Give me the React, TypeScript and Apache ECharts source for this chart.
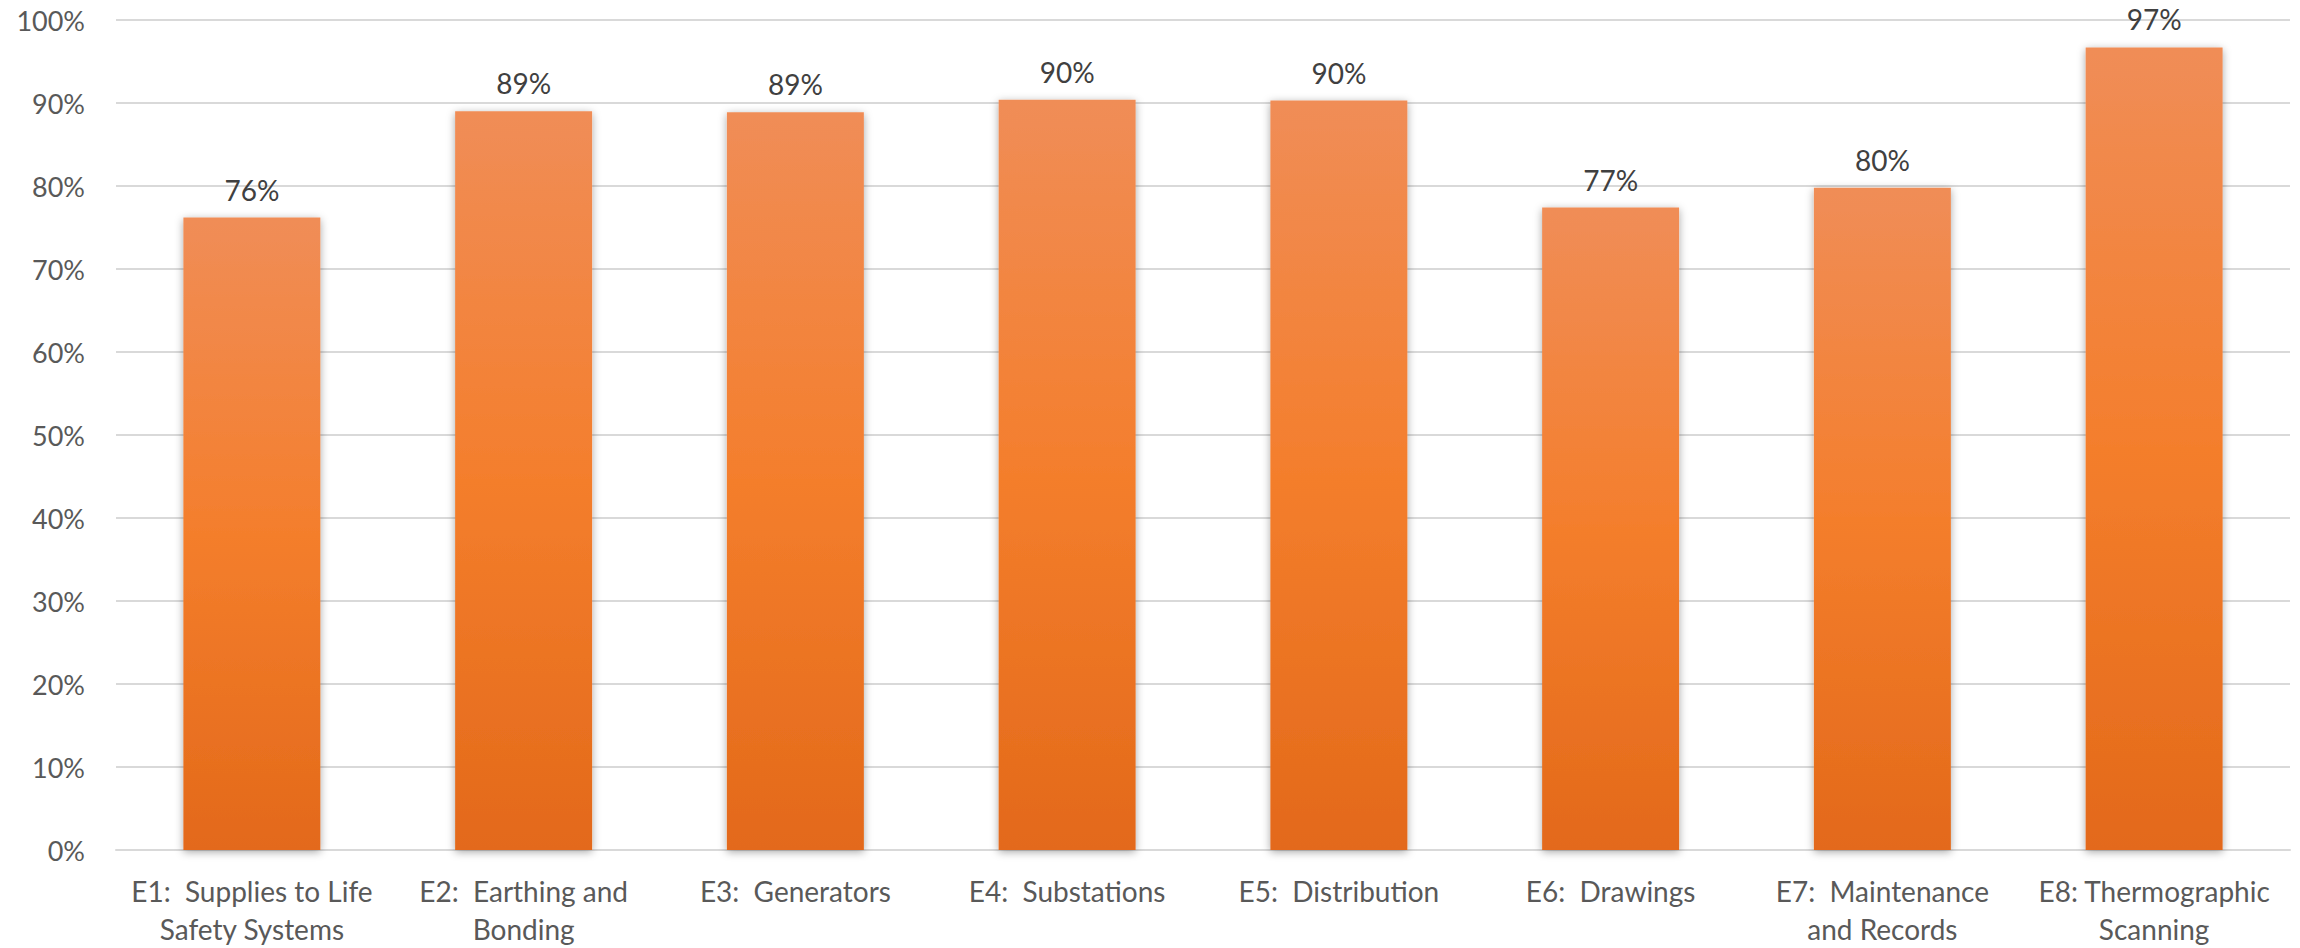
import React, { useEffect, useRef } from "react";
import * as echarts from "echarts";

// Electrical audit sections and their compliance scores (%)
const categories: string[] = [
  "E1:  Supplies to Life\nSafety Systems",
  "E2:  Earthing and\nBonding",
  "E3:  Generators",
  "E4:  Substations",
  "E5:  Distribution",
  "E6:  Drawings",
  "E7:  Maintenance\nand Records",
  "E8: Thermographic\nScanning",
];
const scores: number[] = [76.2, 89.0, 88.9, 90.4, 90.3, 77.4, 79.8, 96.7];
const yTicks: number[] = [0, 10, 20, 30, 40, 50, 60, 70, 80, 90, 100];

const FONT = "Lato, 'Noto Sans', sans-serif";

export default function App() {
  const ref = useRef<HTMLDivElement>(null);

  useEffect(() => {
    if (!ref.current) return;
    const chart = echarts.init(ref.current, undefined, { renderer: "svg" });
    chart.setOption({
      animation: false,
      backgroundColor: "#ffffff",
      grid: { left: 116, right: 10, top: 20, bottom: 97, containLabel: false },
      xAxis: {
        type: "category",
        data: categories,
        axisLine: { show: true, lineStyle: { color: "#D9D9D9", width: 2 } },
        axisTick: { show: false },
        axisLabel: {
          color: "#595959",
          fontFamily: FONT,
          fontSize: 28,
          lineHeight: 38,
          margin: 22,
          interval: 0,
        },
      },
      yAxis: {
        type: "value",
        min: yTicks[0],
        max: yTicks[yTicks.length - 1],
        interval: 10,
        axisLine: { show: false },
        axisTick: { show: false },
        splitLine: { lineStyle: { color: "#D9D9D9", width: 2 } },
        axisLabel: {
          color: "#595959",
          fontFamily: FONT,
          fontSize: 27,
          margin: 31,
          formatter: (v: number) => `${v}%`,
        },
      },
      series: [
        {
          type: "bar",
          data: scores,
          barWidth: "50.4%",
          itemStyle: {
            color: new echarts.graphic.LinearGradient(0, 0, 0, 1, [
              { offset: 0, color: "#F08D57" },
              { offset: 0.5, color: "#F47E2C" },
              { offset: 1, color: "#E3691A" },
            ]),
            shadowBlur: 8,
            shadowColor: "rgba(0,0,0,0.35)",
            shadowOffsetY: 2,
          },
          label: {
            show: true,
            position: "top",
            distance: 14,
            color: "#404040",
            fontFamily: FONT,
            fontSize: 28,
            formatter: (p: any) => `${Math.round(p.value)}%`,
          },
        },
      ],
    });
    return () => chart.dispose();
  }, []);

  return (
    <div
      ref={ref}
      style={{ position: "fixed", left: 0, top: 0, width: 2300, height: 948, background: "#fff" }}
    />
  );
}
